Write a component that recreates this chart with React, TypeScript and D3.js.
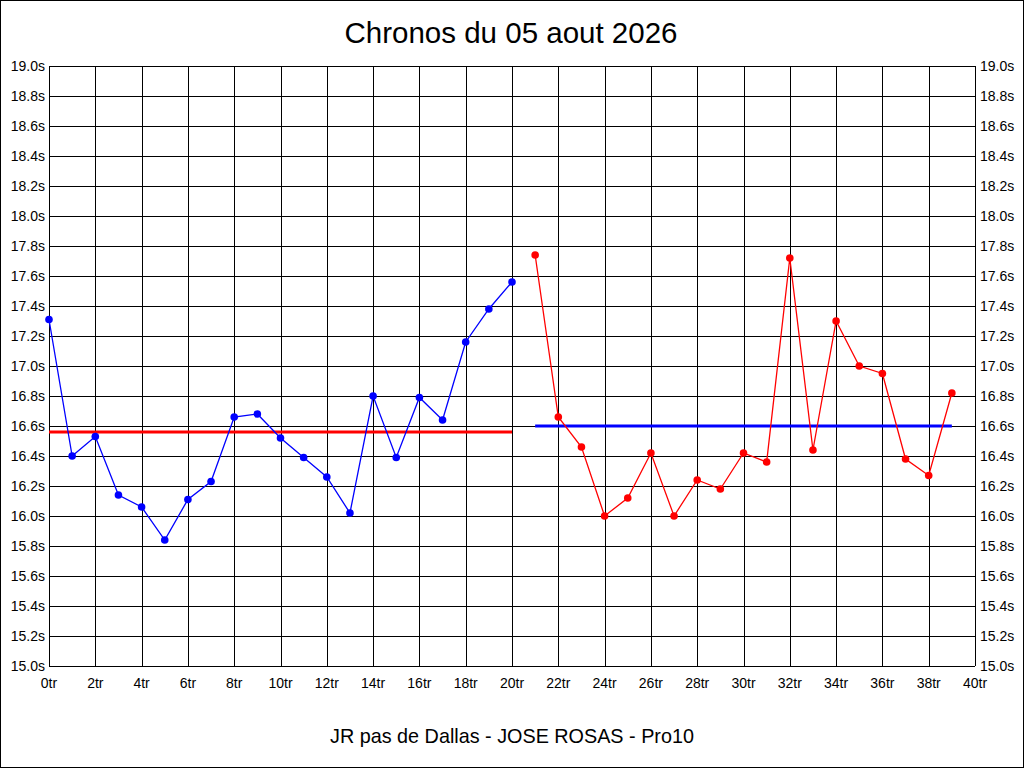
import { useEffect, useRef } from "react";
import * as d3 from "d3";

// lap index (tr) and time in seconds
const firstLaps = d3.range(0, 21);
const firstTimes = [
  17.31, 16.4, 16.53, 16.14, 16.06, 15.84, 16.11, 16.23, 16.66, 16.68, 16.52,
  16.39, 16.26, 16.02, 16.8, 16.39, 16.79, 16.64, 17.16, 17.38, 17.56,
];
const secondLaps = d3.range(21, 40);
const secondTimes = [
  17.74, 16.66, 16.46, 16.0, 16.12, 16.42, 16.0, 16.24, 16.18, 16.42, 16.36,
  17.72, 16.44, 17.3, 17.0, 16.95, 16.38, 16.27, 16.82,
];
// average lines: [startLap, endLap, value]
const firstAverage = [0, 20, 16.56];
const secondAverage = [21, 39, 16.6];

const xTicks = d3.range(0, 41, 2);
const yTicks = d3.range(0, 21).map((i) => +(15 + i * 0.2).toFixed(1));

const titleText = "Chronos du 05 aout 2026";
const footerText = "JR pas de Dallas - JOSE ROSAS - Pro10";

export default function App() {
  const ref = useRef<SVGSVGElement>(null);

  useEffect(() => {
    if (!ref.current) return;
    const svg = d3.select(ref.current);
    svg.selectAll("*").remove();

    const width = 1024;
    const height = 768;
    const margin = { top: 66, right: 49, bottom: 102, left: 49 };
    const font = "'Liberation Sans', Arial, sans-serif";

    const x = d3
      .scaleLinear()
      .domain([0, 40])
      .range([margin.left, width - margin.right]);
    const y = d3
      .scaleLinear()
      .domain([15, 19])
      .range([height - margin.bottom, margin.top]);

    svg
      .append("rect")
      .attr("x", 0.5)
      .attr("y", 0.5)
      .attr("width", width - 1)
      .attr("height", height - 1)
      .attr("fill", "#fff")
      .attr("stroke", "#000");

    // grid
    svg
      .append("g")
      .selectAll("line")
      .data(yTicks)
      .join("line")
      .attr("x1", x(0))
      .attr("x2", x(40))
      .attr("y1", (d) => Math.round(y(d)) + 0.5)
      .attr("y2", (d) => Math.round(y(d)) + 0.5)
      .attr("stroke", "#000");
    svg
      .append("g")
      .selectAll("line")
      .data(xTicks)
      .join("line")
      .attr("x1", (d) => Math.round(x(d)) + 0.5)
      .attr("x2", (d) => Math.round(x(d)) + 0.5)
      .attr("y1", y(19))
      .attr("y2", y(15))
      .attr("stroke", "#000");

    const fmtY = (d: number) => d.toFixed(1) + "s";

    svg
      .append("g")
      .selectAll("text")
      .data(yTicks)
      .join("text")
      .attr("x", margin.left - 4)
      .attr("y", (d) => y(d) + 5)
      .attr("text-anchor", "end")
      .style("font-family", font)
      .style("font-size", "14px")
      .text(fmtY);
    svg
      .append("g")
      .selectAll("text")
      .data(yTicks)
      .join("text")
      .attr("x", width - margin.right + 5)
      .attr("y", (d) => y(d) + 5)
      .attr("text-anchor", "start")
      .style("font-family", font)
      .style("font-size", "14px")
      .text(fmtY);
    svg
      .append("g")
      .selectAll("text")
      .data(xTicks)
      .join("text")
      .attr("x", (d) => x(d))
      .attr("y", y(15) + 22)
      .attr("text-anchor", "middle")
      .style("font-family", font)
      .style("font-size", "14px")
      .text((d) => d + "tr");

    // average lines
    const avg = (a: number[], color: string) =>
      svg
        .append("line")
        .attr("x1", x(a[0]))
        .attr("x2", x(a[1]))
        .attr("y1", y(a[2]))
        .attr("y2", y(a[2]))
        .attr("stroke", color)
        .attr("stroke-width", 3);
    avg(firstAverage, "#ff0000");
    avg(secondAverage, "#0000ff");

    const series = (laps: number[], times: number[], color: string) => {
      const pts = laps.map((l, i) => [l, times[i]] as [number, number]);
      const line = d3
        .line<[number, number]>()
        .x((d) => x(d[0]))
        .y((d) => y(d[1]));
      svg
        .append("path")
        .attr("d", line(pts))
        .attr("fill", "none")
        .attr("stroke", color)
        .attr("stroke-width", 1.3);
      svg
        .append("g")
        .selectAll("circle")
        .data(pts)
        .join("circle")
        .attr("cx", (d) => x(d[0]))
        .attr("cy", (d) => y(d[1]))
        .attr("r", 3.8)
        .attr("fill", color);
    };
    series(firstLaps, firstTimes, "#0000ff");
    series(secondLaps, secondTimes, "#ff0000");

    svg
      .append("text")
      .attr("x", 511)
      .attr("y", 43)
      .attr("text-anchor", "middle")
      .style("font-family", font)
      .style("font-size", "29.5px")
      .text(titleText);
    svg
      .append("text")
      .attr("x", 512)
      .attr("y", 743)
      .attr("text-anchor", "middle")
      .style("font-family", font)
      .style("font-size", "19.8px")
      .text(footerText);
  }, []);

  return (
    <svg
      ref={ref}
      width={1024}
      height={768}
      style={{ position: "absolute", left: 0, top: 0, display: "block" }}
    />
  );
}
